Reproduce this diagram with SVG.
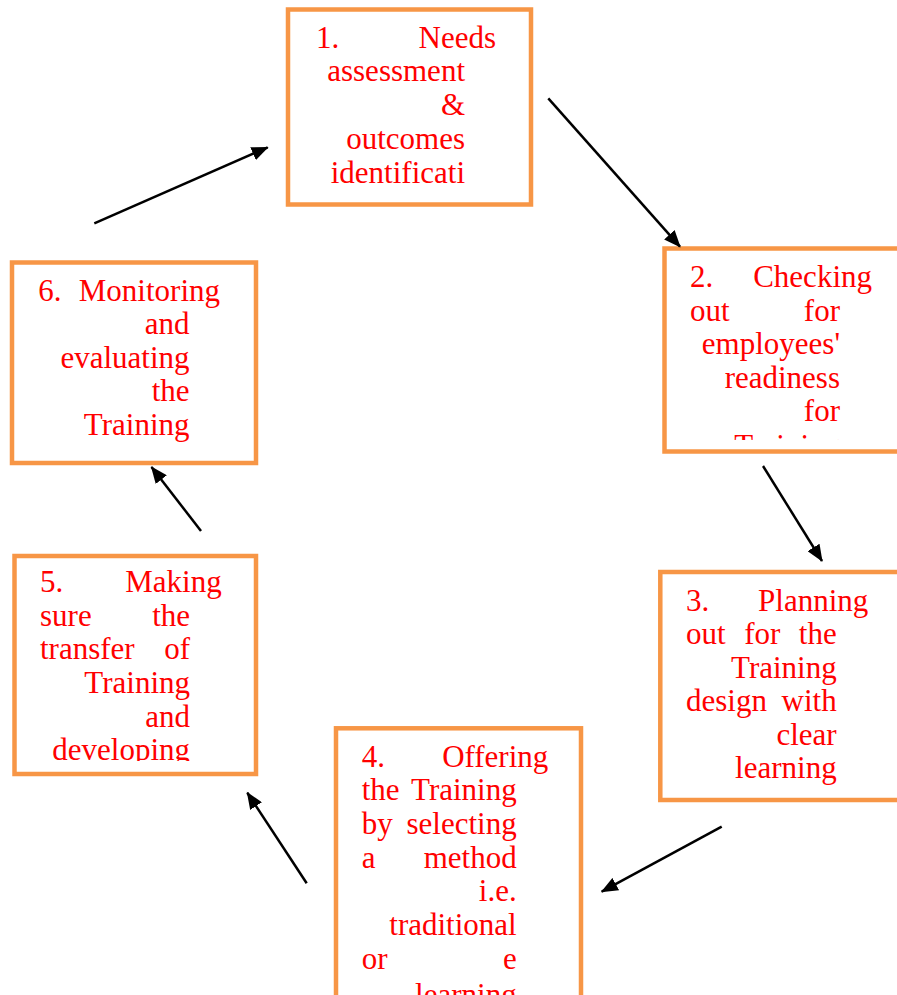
<svg xmlns="http://www.w3.org/2000/svg" width="897" height="995" viewBox="0 0 897 995">
<style>
.box{fill:#fff;stroke:#F79646;stroke-width:4.5}
.t{font-family:"Liberation Serif","Times New Roman",serif;font-size:31px;fill:#FF0000}
.e{text-anchor:end}
.conn line{stroke:#000;stroke-width:2.5;marker-end:url(#ah)}
</style>
<defs>
<marker id="ah" markerUnits="userSpaceOnUse" markerWidth="18" markerHeight="14" refX="16" refY="7" orient="auto" viewBox="0 0 18 14">
<path d="M0,0 L17,7 L0,14 Z" fill="#000"/>
</marker>
<clipPath id="c2"><rect x="660" y="240" width="240" height="200"/></clipPath>
<clipPath id="c5"><rect x="10" y="550" width="250" height="211"/></clipPath>
</defs>
<rect width="897" height="995" fill="#fff"/>

<g id="node1">
<rect class="box" x="288" y="9.5" width="243" height="195"/>
<text class="t" x="316" y="47.5">1.</text>
<text class="t e" x="496" y="47.5">Needs</text>
<text class="t e" x="465" y="81">assessment</text>
<text class="t e" x="465" y="114.5">&amp;</text>
<text class="t e" x="465" y="148.5">outcomes</text>
<text class="t e" x="465" y="182.5">identificati</text>
</g>

<g id="node2">
<rect class="box" x="664.5" y="248.5" width="250" height="203"/>
<g clip-path="url(#c2)">
<text class="t" x="690" y="287">2.</text>
<text class="t e" x="872" y="287">Checking</text>
<text class="t" x="690" y="320.5">out</text>
<text class="t e" x="840" y="320.5">for</text>
<text class="t e" x="840" y="354">employees'</text>
<text class="t e" x="840" y="387.5">readiness</text>
<text class="t e" x="840" y="421">for</text>
<text class="t e" x="840" y="455.5">Training</text>
</g>
</g>

<g id="node3">
<rect class="box" x="660.3" y="572" width="250" height="228"/>
<text class="t" x="686" y="610.7">3.</text>
<text class="t e" x="868.3" y="610.7">Planning</text>
<text class="t" x="686" y="644.3">out</text>
<text class="t" x="744.3" y="644.3">for</text>
<text class="t e" x="836.7" y="644.3">the</text>
<text class="t e" x="836.7" y="677.8">Training</text>
<text class="t" x="686" y="711.3">design</text>
<text class="t e" x="836.7" y="711.3">with</text>
<text class="t e" x="836.7" y="744.8">clear</text>
<text class="t e" x="836.7" y="778.3">learning</text>
</g>

<g id="node4">
<rect class="box" x="336" y="728.3" width="245" height="290"/>
<text class="t" x="361.7" y="766.7">4.</text>
<text class="t e" x="548.3" y="766.7">Offering</text>
<text class="t" x="361.7" y="800.4">the</text>
<text class="t e" x="516.7" y="800.4">Training</text>
<text class="t" x="361.7" y="834">by</text>
<text class="t e" x="516.7" y="834">selecting</text>
<text class="t" x="361.7" y="867.7">a</text>
<text class="t e" x="516.7" y="867.7">method</text>
<text class="t e" x="516.7" y="901.3">i.e.</text>
<text class="t e" x="516.7" y="935">traditional</text>
<text class="t" x="361.7" y="968.7">or</text>
<text class="t e" x="516.7" y="968.7">e</text>
<text class="t e" x="516.7" y="1005">learning</text>
</g>

<g id="node5">
<rect class="box" x="14.5" y="556" width="241.5" height="218"/>
<g clip-path="url(#c5)">
<text class="t" x="40" y="592">5.</text>
<text class="t e" x="221.7" y="592">Making</text>
<text class="t" x="40" y="625.5">sure</text>
<text class="t e" x="190" y="625.5">the</text>
<text class="t" x="40" y="659.3">transfer</text>
<text class="t e" x="190" y="659.3">of</text>
<text class="t e" x="190" y="693">Training</text>
<text class="t e" x="190" y="726.7">and</text>
<text class="t e" x="190" y="760.3">developing</text>
</g>
</g>

<g id="node6">
<rect class="box" x="12" y="262.5" width="244" height="200.5"/>
<text class="t" x="38.3" y="300.7">6.</text>
<text class="t e" x="220" y="300.7">Monitoring</text>
<text class="t e" x="189.5" y="334.2">and</text>
<text class="t e" x="189.5" y="367.7">evaluating</text>
<text class="t e" x="189.5" y="401.2">the</text>
<text class="t e" x="189.5" y="434.7">Training</text>
</g>

<g id="connectors" class="conn">
<line x1="548.3" y1="98.3" x2="680" y2="246.7"/>
<line x1="763" y1="466" x2="822" y2="561"/>
<line x1="721.7" y1="826.7" x2="601.7" y2="891.7"/>
<line x1="306.7" y1="883.3" x2="247.3" y2="792.7"/>
<line x1="201" y1="531" x2="151.5" y2="467"/>
<line x1="94.3" y1="223.3" x2="267.7" y2="147.3"/>
</g>
</svg>
